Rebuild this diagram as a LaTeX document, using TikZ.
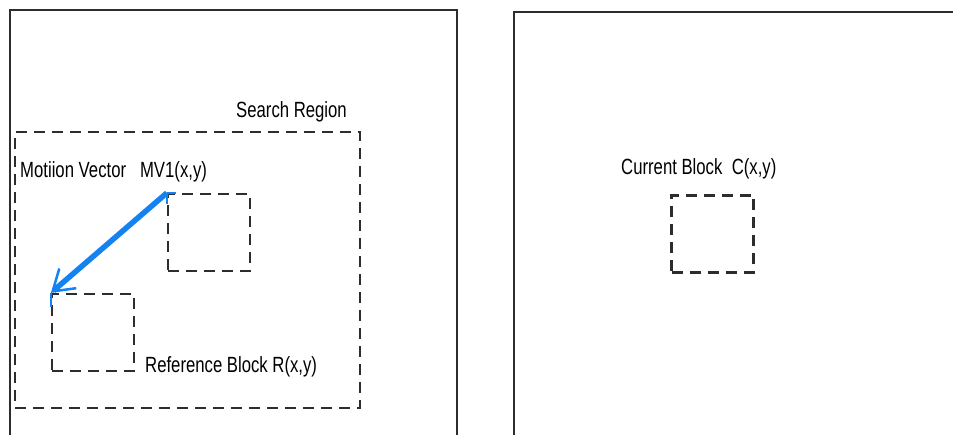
\documentclass[tikz,border=0pt]{standalone}
\usepackage{fontspec}
\setmainfont[FakeStretch=0.76]{Liberation Sans}
\usetikzlibrary{arrows.meta}
\definecolor{framegray}{RGB}{45,45,45}
\definecolor{mvblue}{RGB}{20,130,240}
\tikzset{
  frameline/.style={draw=framegray, line width=2.5pt},
  dashline/.style={draw=framegray, line width=2.2pt, dash pattern=on 11pt off 7pt},
  blockbox/.style={dashline, rectangle, minimum width=82pt, minimum height=77pt, inner sep=0pt},
  regionbox/.style={dashline, rectangle, minimum width=345pt, minimum height=276pt, inner sep=0pt},
  lbl/.style={font=\fontsize{22}{25}\selectfont, inner sep=0pt, anchor=west, text=black},
  mvarrow/.style={draw=mvblue, line width=5.5pt, -{Straight Barb[length=20pt, width=26pt, line width=2.5pt]}},
  cornertick/.style={draw=mvblue, line width=1.6pt}
}
\begin{document}
\begin{tikzpicture}[x=1pt, y=-1pt]
  \useasboundingbox (0,0) rectangle (953,435);

  % the two frames (open at the bottom)
  \draw[frameline] (10,435) -- (10,10) -- (457,10) -- (457,435);
  \draw[frameline] (514,435) -- (514,12) -- (953,12);

  % search region and blocks
  \node[regionbox] (search) at (187.5,270) {};
  \node[blockbox] (mb) at (209,232.5) {};
  \node[blockbox] (rb) at (93,332.5) {};
  \node[blockbox] (cb) at (712.5,234) {};

  % labels
  \node[lbl] (searchlbl) at (236,112) {Search Region};
  \node[lbl] (mvlbl) at (20,172) {Motiion Vector\ \ \ MV1(x,y)};
  \node[lbl] (rblbl) at (145,367) {Reference Block R(x,y)};
  \node[lbl] (cblbl) at (621,169) {Current Block\ \ C(x,y)};

  % blue corner marks on the blocks
  \draw[cornertick] (mb.north west) -- ++(9,0);
  \draw[cornertick] (mb.north west) -- ++(0,11);
  \draw[cornertick] (rb.north west) -- ++(0,14);

  % motion vector
  \draw[mvarrow] (mb.north west) -- (rb.north west);
\end{tikzpicture}
\end{document}
